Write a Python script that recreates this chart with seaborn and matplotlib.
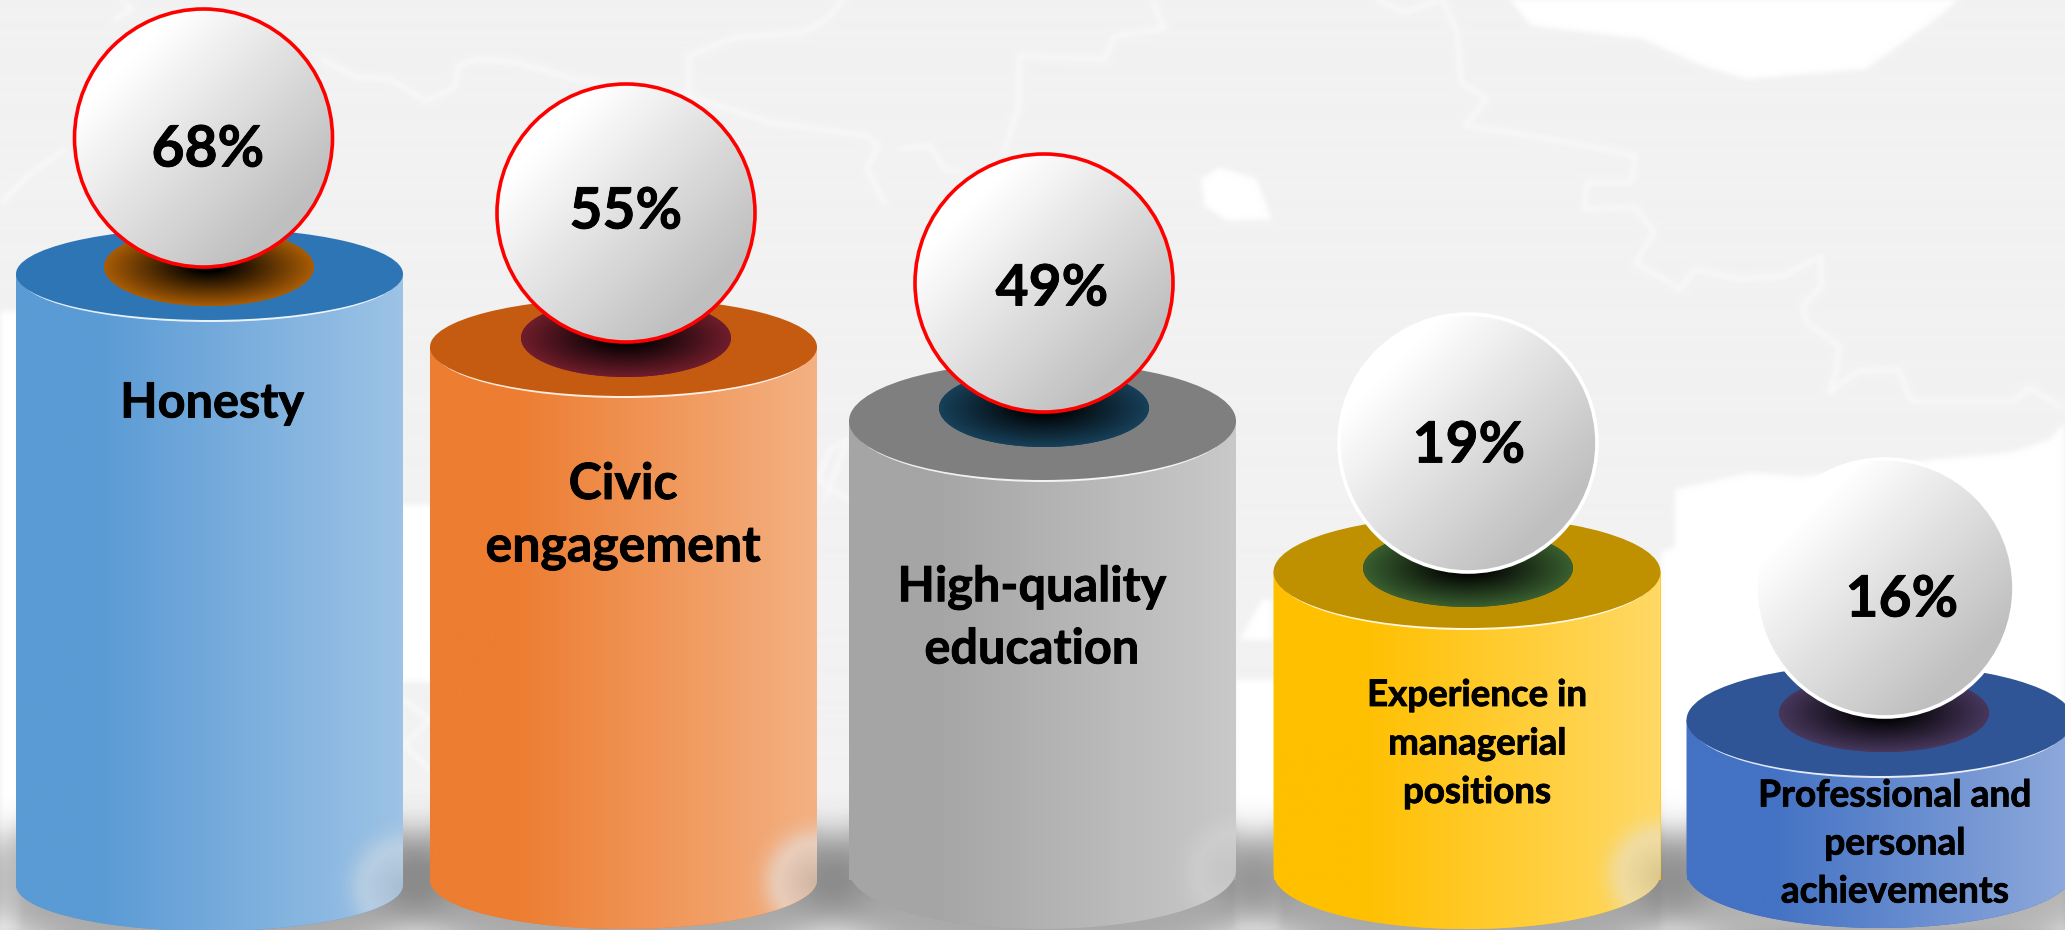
import numpy as np
import pandas as pd
import matplotlib
matplotlib.use("Agg")
import matplotlib.pyplot as plt
import matplotlib.patheffects as pe
from matplotlib.patches import Ellipse, Polygon, PathPatch
from matplotlib.path import Path
from matplotlib.colors import LinearSegmentedColormap, to_rgb
import seaborn as sns

# ---- data ----
categories = ["Honesty", "Civic\nengagement", "High-quality\neducation",
              "Experience in\nmanagerial\npositions",
              "Professional and\npersonal\nachievements"]
percent_values = [68, 55, 49, 19, 16]
# drawn cylinder heights (the original is decorative, not proportional)
cylinder_heights = [606, 533, 459, 308, 160]
cylinder_centers = [209.5, 623.5, 1042.5, 1467.0, 1880.0]

# ---- style ----
W, H = 2065, 930
BASE = 880
left_cols = ["#5B9BD5", "#ED7D31", "#A5A5A5", "#FFC000", "#4472C4"]
right_cols = ["#9DC3E6", "#F4B183", "#C9C9C9", "#FFD966", "#8FAADC"]
top_cols = ["#2E75B6", "#C55A11", "#7F7F7F", "#BF9000", "#2F5597"]
disc_cols = ["#A85C05", "#6F1D2B", "#174059", "#395F30", "#47375C"]
edge_cols = ["#FF0000", "#FF0000", "#FF0000", "#FFFFFF", "#FFFFFF"]
top_ry = [46, 49, 59, 56, 56]
bottom_shift = [5, 0, -10, -7, -8]
disc_xy = [(209, 267), (626, 338), (1044, 408), (1468, 568), (1884, 713)]
ball_xy = [(203.5, 138), (626, 213), (1044, 283), (1468, 443), (1885, 588)]
pct_xy = [(208, 150), (626, 212), (1052, 289), (1469, 446), (1902, 600)]
label_xy = [(212, 403), (623, 516), (1032, 618), (1477, 744), (1895, 844)]
label_size = [35, 36, 35, 26.4, 26.7]
label_gap = [None, 63, 62, 48.5, 48]
glow = [0.42, 0.6, 0.25, 0.5, 0.0]

sns.set_theme(style="white")
plt.rcParams["font.family"] = ["Lato", "DejaVu Sans"]

fig = plt.figure(figsize=(W / 100, H / 100), dpi=100)
ax = fig.add_axes([0, 0, 1, 1])
ax.set_facecolor("#F2F2F2")

def Y(p):
    return BASE - p

df = pd.DataFrame({"center": cylinder_centers, "height": cylinder_heights,
                   "category": categories})
sns.barplot(data=df, x="center", y="height", hue="category", palette=left_cols,
            native_scale=True, width=387 / 413, legend=False, ax=ax, zorder=3,
            errorbar=None, dodge=False, saturation=1, linewidth=0)
bars = [p for c in ax.containers for p in c]

# ---- background map, drawn off-screen in image pixels and softened ----
def px(points, sx=1.0, sy=1.0, ox=0.0, oy=0.0):
    return [(ox + a / sx, oy + b / sy) for a, b in points]

white_regions = [
    px([(820, 0), (850, 80), (1000, 120), (1080, 200), (1140, 240), (1300, 210), (1400, 50), (1425, 0)], 1.346, 3, 900),
    px([(405, 540), (430, 505), (480, 540), (500, 660), (440, 665), (410, 620)], 1.346, 3, 900),
    [(1675, 490), (1750, 473), (1800, 477), (1933, 460), (2010, 453), (2050, 440), (2065, 423), (2065, 930),
     (1661, 930), (1661, 552), (1675, 547)],
    [(0, 312), (20, 312), (20, 930), (0, 930)],
    [(1235, 680), (1280, 680), (1280, 930), (1235, 930)],
    [(400, 505), (435, 505), (435, 682), (400, 682)],
    [(1240, 640), (1262, 600), (1272, 600), (1272, 640)],
]
map_lines = [
    px([(200, 60), (230, 30), (210, 0)], 1.742, 3),
    [(0, 205), (30, 175), (65, 150)],
    px([(560, 180), (620, 235), (680, 240), (740, 305), (790, 270), (800, 200), (830, 180), (900, 190),
        (1000, 240), (1200, 290), (1340, 370), (1510, 410), (1530, 440), (1510, 510), (1540, 610)], 1.742, 3),
    px([(1200, 290), (1200, 170), (1280, 115), (1400, 100), (1440, 60), (1470, 0)], 1.742, 3),
    px([(340, 0), (355, 90), (290, 110), (275, 180), (160, 170), (160, 320), (140, 460)], 1.346, 3, 900),
    px([(0, 450), (40, 440), (60, 510), (80, 520)], 1.346, 3, 900),
    px([(640, 0), (680, 40), (730, 0), (750, 100), (755, 250), (790, 300), (760, 380), (820, 400), (900, 430),
        (990, 470), (985, 550), (925, 550), (920, 630), (990, 625), (1015, 700), (990, 790), (1050, 870),
        (1070, 810), (1130, 840), (1190, 830), (1240, 770), (1240, 860), (1215, 920), (1220, 970), (1265, 1040),
        (1260, 1120), (1250, 1180), (1290, 1115), (1345, 1110), (1360, 1205), (1500, 1205), (1520, 1165),
        (1568, 1230)], 1.346, 3, 900),
    [(825, 500), (848, 440), (830, 450), (818, 480), (848, 500)],
    [(404, 700), (430, 720), (404, 745), (430, 770)],
]
mask_fig = plt.figure(figsize=(W / 100, H / 100), dpi=100, facecolor="black")
mask_ax = mask_fig.add_axes([0, 0, 1, 1])
mask_ax.set_xlim(0, W)
mask_ax.set_ylim(H, 0)
mask_ax.axis("off")
for line in map_lines:
    xs, ys = zip(*line)
    mask_ax.plot(xs, ys, color="#8C8C8C", lw=3.4, solid_joinstyle="round")
for poly in white_regions:
    mask_ax.add_patch(Polygon(poly, closed=True, fc="white", ec="none", zorder=3))
mask_fig.canvas.draw()
mask = np.asarray(mask_fig.canvas.buffer_rgba())[..., 0].astype(float) / 255
plt.close(mask_fig)

def box_blur(a, k):
    kernel = np.ones(k) / k
    a = np.apply_along_axis(lambda v: np.convolve(v, kernel, mode="same"), 0, a)
    return np.apply_along_axis(lambda v: np.convolve(v, kernel, mode="same"), 1, a)

mask = box_blur(box_blur(mask, 7), 5)
bg = 0xF2 / 255 + (1 - 0xF2 / 255) * np.clip(mask, 0, 1)
ax.imshow(np.dstack([bg, bg, bg]), extent=(0, W, Y(H), Y(0)), origin="upper", aspect="auto", zorder=1)

# ---- soft shadow around the feet of the cylinders ----
xx, yy = np.meshgrid(np.arange(W) + 0.5, np.arange(H) + 0.5)
light = np.ones_like(xx)
for p in bars:
    cxs = p.get_x() + p.get_width() / 2
    d = np.hypot((xx - cxs) / (p.get_width() / 2 + 40), (yy - BASE) / 85)
    light *= 1 - 0.15 * (1 - np.tanh((d - 1) / 0.15))
rgba = np.zeros((H, W, 4))
rgba[..., 3] = 1 - light
ax.imshow(rgba, extent=(0, W, Y(H), Y(0)), origin="upper", aspect="auto", zorder=2)

# ---- cylinders ----
for i, p in enumerate(bars):
    x0 = p.get_x()
    w = p.get_width()
    ytop = p.get_height()
    ybot = -bottom_shift[i]
    cx = x0 + w / 2
    rx = w / 2
    ry = top_ry[i]
    # body outline: the bar plus its rounded base
    t = np.linspace(np.pi, 2 * np.pi, 80)
    base_pts = [(cx + rx * np.cos(a), ybot + ry * np.sin(a)) for a in t]
    verts = [(x0, ytop)] + base_pts + [(x0 + w, ytop), (x0, ytop)]
    body = PathPatch(Path(verts), fc=left_cols[i], ec="none", zorder=3)
    ax.add_patch(body)
    p.set_zorder(2.9)
    # horizontal gradient
    c0, c1 = np.array(to_rgb(left_cols[i])), np.array(to_rgb(right_cols[i]))
    f = np.clip((np.linspace(0, 1, 256) - 0.22) / 0.78, 0, 1)[None, :, None]
    grad = c0[None, None, :] * (1 - f) + c1[None, None, :] * f
    im = ax.imshow(grad, extent=(x0, x0 + w, ybot - ry, ytop), aspect="auto", zorder=3.1)
    im.set_clip_path(body)
    # highlight in the lower right
    if glow[i] > 0:
        r = np.hypot((xx - (x0 + w)) / 62, (yy - (BASE - ybot + 2)) / 62)
        alpha = np.where(r < 0.6, glow[i], glow[i] * np.exp(-((r - 0.6) / 0.28) ** 2))
        tone = 0.72 + 0.17 * np.clip(r / 0.6, 0, 1)
        glow_img = np.dstack([tone, tone, tone, alpha])
        im2 = ax.imshow(glow_img, extent=(0, W, Y(H), Y(0)), origin="upper", aspect="auto", zorder=3.2)
        im2.set_clip_path(body)
    # rim + top face
    ax.add_patch(Ellipse((cx, ytop - 2), 2 * rx - 6, 2 * ry, fc="white", ec="none", alpha=0.85, zorder=3.3))
    ax.add_patch(Ellipse((cx, ytop), 2 * rx, 2 * ry, fc=top_cols[i], ec="none", zorder=3.4))
    # disc with dark radial centre
    dx, dy = disc_xy[i]
    disc = Ellipse((dx, Y(dy)), 210, 78, fc=disc_cols[i], ec="none", zorder=3.5)
    ax.add_patch(disc)
    cmap = LinearSegmentedColormap.from_list("d", [(0, "#000000"), (0.12, "#000000"), (1, disc_cols[i])])
    gx = np.linspace(-1, 1, 300)
    gg = np.hypot(*np.meshgrid(gx, gx))
    im3 = ax.imshow(np.clip(gg, 0, 1), cmap=cmap, vmin=0, vmax=1,
                    extent=(dx - 105, dx + 105, Y(dy) - 39, Y(dy) + 39), aspect="auto", zorder=3.6)
    im3.set_clip_path(disc)
    # ball
    bx, by = ball_xy[i]
    ball = Ellipse((bx, Y(by)), 258, 258, fc="#E0E0E0", ec="none", zorder=4)
    ax.add_patch(ball)
    g = np.linspace(0, 1, 300)
    a, b = np.meshgrid(g, g)
    shade = np.clip((a + b - 0.42) / 1.2, 0, 1)
    ball_map = LinearSegmentedColormap.from_list("b", ["#FFFFFF", "#BFBFBF"])
    im4 = ax.imshow(shade, cmap=ball_map, vmin=0, vmax=1, origin="upper",
                    extent=(bx - 130, bx + 130, Y(by) - 130, Y(by) + 130), aspect="auto", zorder=4.1)
    im4.set_clip_path(ball)
    ax.add_patch(Ellipse((bx, Y(by)), 258, 258, fc="none", ec=edge_cols[i], lw=2.6, zorder=4.2))

    stroke = [pe.withStroke(linewidth=0.6, foreground="black")]
    tx, ty = pct_xy[i]
    ax.text(tx, Y(ty), f"{percent_values[i]}%", ha="center", va="center", fontsize=41,
            fontweight="bold", color="black", zorder=5, path_effects=stroke)
    lx, ly = label_xy[i]
    gap = label_gap[i]
    lines = categories[i].split("\n")
    if len(lines) == 1:
        ax.text(lx, Y(ly), lines[0], ha="center", va="center", fontsize=label_size[i],
                fontweight="bold", color="black", zorder=5, path_effects=stroke)
    else:
        off = (len(lines) - 1) / 2
        for k, s in enumerate(lines):
            ax.text(lx, Y(ly + (k - off) * gap), s, ha="center", va="center", fontsize=label_size[i],
                    fontweight="bold", color="black", zorder=5, path_effects=stroke)

ax.set_xlim(0, W)
ax.set_ylim(Y(H), Y(0))
ax.axis("off")
fig.savefig("out.png", dpi=100, facecolor="#F2F2F2")
